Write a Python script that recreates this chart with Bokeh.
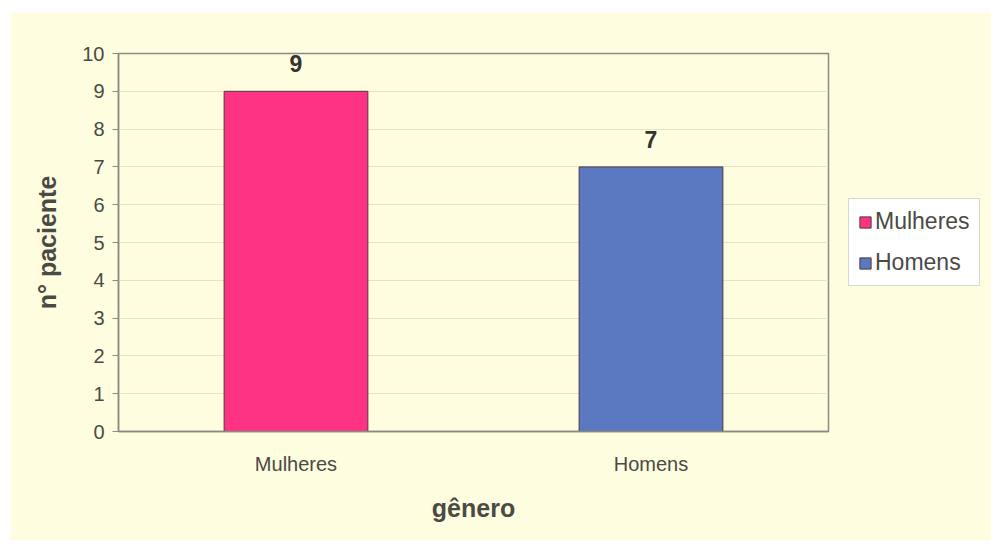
from bokeh.plotting import figure
from bokeh.models import ColumnDataSource, LabelSet, FactorRange, Legend, LegendItem
from bokeh.transform import factor_cmap
from bokeh.core.properties import value
from bokeh.embed import file_html
from bokeh.resources import INLINE

categories = ["Mulheres", "Homens"]
patients = [9, 7]
y_ticks = [0, 1, 2, 3, 4, 5, 6, 7, 8, 9, 10]

palette = ["#FF3383", "#5B79C1"]
BG = "#FFFDE0"
FONT = "Liberation Sans"

source = ColumnDataSource(dict(genero=categories, n=patients,
                               lbl=[str(v) for v in patients]))

p = figure(x_range=FactorRange(*categories, range_padding=0), y_range=(0, 10),
           frame_width=710, frame_height=378,
           min_border_left=108, min_border_right=163,
           min_border_top=41, min_border_bottom=109,
           output_backend="svg", toolbar_location=None,
           margin=(12, 0, 6, 10))

p.background_fill_color = BG
p.border_fill_color = BG
p.outline_line_color = "#8a8a80"
p.outline_line_width = 1.5

r = p.vbar(x="genero", top="n", width=0.405, source=source,
           fill_color=factor_cmap("genero", palette=palette, factors=categories),
           line_color="#4a3a40", line_width=1)

labels = LabelSet(x="genero", y="n", text="lbl", source=source,
                  text_align="center", text_baseline="bottom", y_offset=19,
                  text_font=value(FONT), text_font_style="bold", text_font_size="23px",
                  text_color="#333333")
p.add_layout(labels)

p.yaxis.ticker = y_ticks
p.ygrid.grid_line_color = "#E6E3BE"
p.xgrid.grid_line_color = None

for ax in (p.xaxis[0], p.yaxis[0]):
    ax.axis_line_color = "#8a8a80"
    ax.axis_line_width = 1.5
    ax.major_label_text_font = FONT
    ax.major_label_text_font_size = "20px"
    ax.major_label_text_color = "#4a4a44"
    ax.axis_label_text_font = FONT
    ax.axis_label_text_font_style = "bold"
    ax.axis_label_text_font_size = "25px"
    ax.axis_label_text_color = "#4a4a44"
    ax.minor_tick_line_color = None

p.yaxis.major_tick_line_color = "#8a8a80"
p.yaxis.major_tick_in = 0
p.yaxis.major_tick_out = 6
p.yaxis.major_label_standoff = 8
p.yaxis.axis_label = "n° paciente"
p.yaxis.axis_label_standoff = 18

p.xaxis.major_tick_line_color = None
p.xaxis.major_label_standoff = 15
p.xaxis.axis_label = "gênero"
p.xaxis.axis_label_standoff = 16

legend = Legend(items=[LegendItem(label=categories[0], renderers=[r], index=0),
                       LegendItem(label=categories[1], renderers=[r], index=1)],
                location="center_left")
legend.background_fill_color = "white"
legend.background_fill_alpha = 1
legend.border_line_color = "#B0B0A8"
legend.label_text_font = FONT
legend.label_text_font_size = "23px"
legend.label_text_color = "#4a4a44"
legend.glyph_width = 14
legend.glyph_height = 14
legend.label_standoff = 3
legend.padding = 9
legend.spacing = 14
legend.margin = 20
p.add_layout(legend, "right")

open("out.html", "w").write(file_html(p, INLINE))
